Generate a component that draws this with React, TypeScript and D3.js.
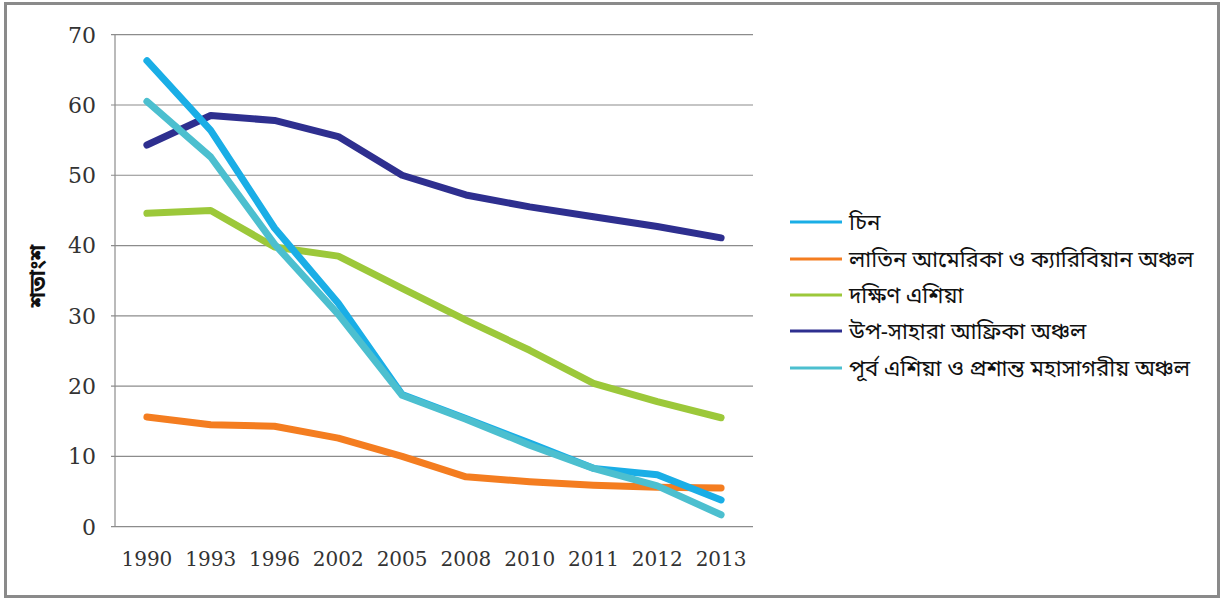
import React from "react";
import * as d3 from "d3";

const years = ["1990", "1993", "1996", "2002", "2005", "2008", "2010", "2011", "2012", "2013"];
const china = [66.3, 56.4, 42.5, 31.8, 18.8, 15.4, 11.9, 8.3, 7.4, 3.8];
const latinAmerica = [15.6, 14.5, 14.3, 12.6, 10.0, 7.1, 6.4, 5.9, 5.6, 5.5];
const southAsia = [44.6, 45.0, 39.8, 38.5, 33.9, 29.4, 25.1, 20.4, 17.8, 15.5];
const subSaharan = [54.3, 58.5, 57.8, 55.5, 50.0, 47.2, 45.5, 44.1, 42.7, 41.1];
const eastAsia = [60.5, 52.6, 40.2, 30.2, 18.7, 15.3, 11.6, 8.3, 5.8, 1.7];
const yTicks = [0, 10, 20, 30, 40, 50, 60, 70];
const seriesNames = [
  "চিন",
  "লাতিন আমেরিকা ও ক্যারিবিয়ান অঞ্চল",
  "দক্ষিণ এশিয়া",
  "উপ-সাহারা আফ্রিকা অঞ্চল",
  "পূর্ব এশিয়া ও প্রশান্ত মহাসাগরীয় অঞ্চল",
];
const yLabel = "শতাংশ";

const colors = ["#1aaee6", "#f47d20", "#9cc83a", "#2e2f8f", "#4cbfcf"];
const seriesValues = [china, latinAmerica, southAsia, subSaharan, eastAsia];
// drawing order: back to front
const drawOrder = [2, 3, 1, 0, 4];

const bengaliFont = "'Noto Sans Bengali', 'Noto Serif Bengali', 'Lohit Bengali', 'FreeSerif', 'Noto Sans', sans-serif";

export default function App() {
  const W = 1221;
  const H = 599;
  const left = 115, right = 753, top = 34.7, bottom = 526.7;
  const x = d3.scaleBand<string>().domain(years).range([left, right]).padding(0);
  const y = d3.scaleLinear().domain([0, 70]).range([bottom, top]);
  const cx = (yr: string) => (x(yr) as number) + x.bandwidth() / 2;
  const line = d3
    .line<number>()
    .x((_, i) => cx(years[i]))
    .y((v) => y(v));

  const legendY = [222, 259, 295, 331, 368];

  return (
    <svg
      width={W}
      height={H}
      style={{ position: "absolute", left: 0, top: 0, background: "#fff" }}
    >
      <rect x={5.5} y={3.5} width={1213} height={593} fill="#fff" stroke="#8a8a8a" strokeWidth={3} />
      {yTicks.map((t) => (
        <g key={t}>
          <line x1={left - 4} x2={right} y1={y(t)} y2={y(t)} stroke="#8c8c8c" strokeWidth={1.2} />
          <text
            x={96}
            y={y(t)}
            dy="0.36em"
            textAnchor="end"
            fontFamily="'DejaVu Serif', serif"
            fontSize={22}
            fill="#333"
          >
            {t}
          </text>
        </g>
      ))}
      <line x1={left} x2={left} y1={top} y2={bottom} stroke="#8c8c8c" strokeWidth={1.2} />
      {years.map((yr) => (
        <text
          key={yr}
          x={cx(yr)}
          y={566}
          textAnchor="middle"
          fontFamily="'DejaVu Serif', serif"
          fontSize={20}
          fill="#333"
        >
          {yr}
        </text>
      ))}
      <text
        transform={`translate(45,${276}) rotate(-90)`}
        textAnchor="middle"
        fontFamily={bengaliFont}
        fontWeight="bold"
        fontSize={22}
        fill="#111"
      >
        {yLabel}
      </text>
      {drawOrder.map((si) => (
        <path
          key={si}
          d={line(seriesValues[si]) || ""}
          fill="none"
          stroke={colors[si]}
          strokeWidth={7}
          strokeLinecap="round"
          strokeLinejoin="round"
        />
      ))}
      {seriesNames.map((name, i) => (
        <g key={name}>
          <line x1={790} x2={842} y1={legendY[i]} y2={legendY[i]} stroke={colors[i]} strokeWidth={3} />
          <text
            x={849}
            y={legendY[i]}
            dy="0.35em"
            fontFamily={bengaliFont}
            fontSize={22.3}
            fill="#111"
          >
            {name}
          </text>
        </g>
      ))}
    </svg>
  );
}
